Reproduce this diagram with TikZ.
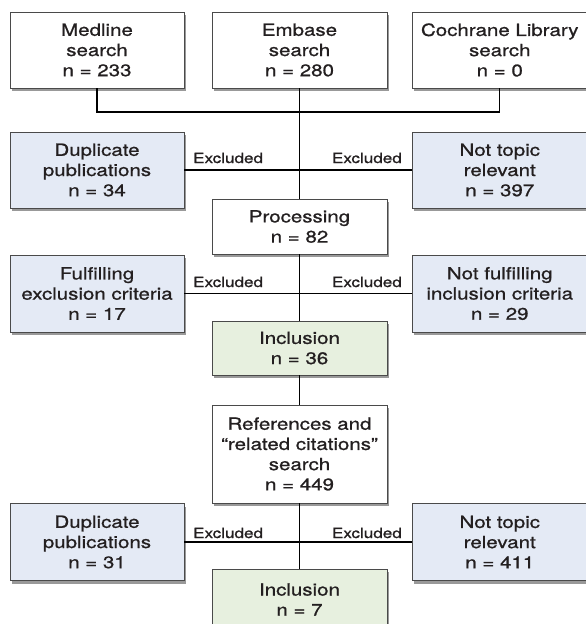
\documentclass[tikz,border=0pt]{standalone}
\usepackage{fontspec}
\setmainfont{TeX Gyre Heros}[FakeStretch=1.22,FakeBold=0.9]
\usetikzlibrary{shadows}
\definecolor{boxblue}{HTML}{E4EAF5}
\definecolor{boxgreen}{HTML}{E7F0DF}
\definecolor{edgegray}{HTML}{4A4A4A}
\definecolor{ink}{HTML}{231F20}
\begin{document}
\begin{tikzpicture}[x=1pt,y=-1pt,
  box/.style={draw=edgegray, line width=0.8pt, fill=white, minimum width=174pt,
    minimum height=76pt, align=center, text=ink, inner sep=0pt,
    font=\fontsize{16.8}{20.2}\selectfont,
    drop shadow={shadow xshift=1.5pt, shadow yshift=-3pt, fill=black, opacity=0.4}},
  bluebox/.style={box, fill=boxblue},
  greenbox/.style={box, fill=boxgreen},
  conn/.style={draw=black, line width=1.3pt},
  lab/.style={text=ink, inner sep=0pt, font=\fontsize{14}{16}\selectfont}]
\useasboundingbox (0,0) rectangle (586,624);
% top row
\node[box] (med) at (97,50) {Medline\\search\\n = 233};
\node[box, minimum width=175pt] (emb) at (299.5,50) {Embase\\search\\n = 280};
\node[box, minimum width=175.5pt] (coch) at (499.75,50) {Cochrane Library\\search\\n = 0};
% row 2
\node[bluebox] (dup1) at (97,170) {Duplicate\\publications\\n = 34};
\node[bluebox, minimum width=175.5pt] (ntr1) at (499.75,170) {Not topic\\relevant\\n = 397};
\node[box, minimum width=175pt, minimum height=55pt] (proc) at (299.5,226.5) {Processing\\n = 82};
% row 4
\node[bluebox, minimum height=77pt] (ful) at (97,293.5) {Fulfilling\\exclusion criteria\\n = 17};
\node[bluebox, minimum width=175.5pt, minimum height=77pt] (nful) at (499.75,293.5) {Not fulfilling\\inclusion criteria\\n = 29};
\node[greenbox, minimum width=175pt, minimum height=54pt] (inc1) at (299.5,348) {Inclusion\\n = 36};
\node[box, minimum width=175pt, minimum height=98pt] (ref) at (299.5,454) {References and\\“related citations”\\search\\n = 449};
% row 6
\node[bluebox, minimum height=77pt] (dup2) at (97,542) {Duplicate\\publications\\n = 31};
\node[bluebox, minimum width=175.5pt, minimum height=77pt] (ntr2) at (499.75,542) {Not topic\\relevant\\n = 411};
\node[greenbox, minimum width=175pt, minimum height=61pt] (inc2) at (299.5,599.5) {Inclusion\\n = 7};
% connectors
\coordinate (j1) at (299.5,112);
\draw[conn] (med.south) |- (j1) -| (coch.south);
\draw[conn] (emb.south) -- (proc.north);
\draw[conn] (dup1.east) -- (ntr1.west);
\draw[conn] (proc.south) -- (inc1.north);
\draw[conn] (ful.east) -- (nful.west);
\draw[conn] (inc1.south) -- (ref.north);
\draw[conn] (ref.south) -- (inc2.north);
\draw[conn] (dup2.east) -- (ntr2.west);
% labels
\node[lab, anchor=base west] (e1l) at (193,163) {Excluded};
\node[lab, anchor=base east] (e1r) at (402,163) {Excluded};
\node[lab, anchor=base west] (e2l) at (193,287) {Excluded};
\node[lab, anchor=base east] (e2r) at (402,287) {Excluded};
\node[lab, anchor=base west] (e3l) at (193,538) {Excluded};
\node[lab, anchor=base east] (e3r) at (402,538) {Excluded};
\end{tikzpicture}
\end{document}
